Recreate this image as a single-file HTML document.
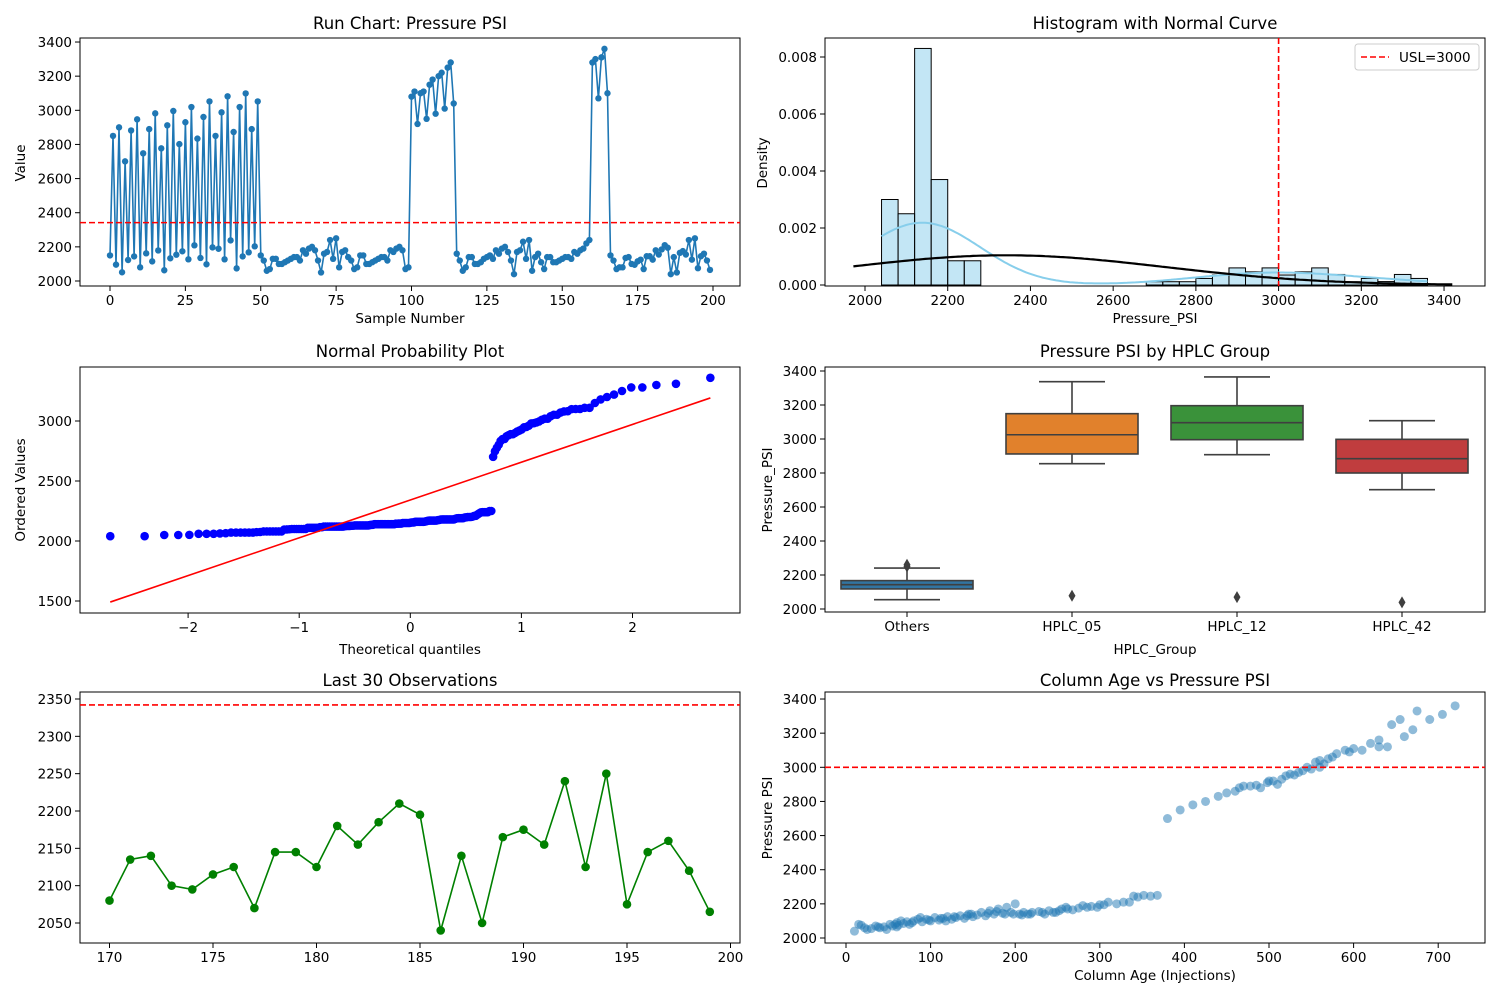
<!DOCTYPE html>
<html><head><meta charset="utf-8"><style>
html,body{margin:0;padding:0;background:#fff}
svg{display:block;font-family:"DejaVu Sans","Liberation Sans",sans-serif}
</style></head><body>
<svg id="fig" width="1500" height="1000" viewBox="0 0 1500 1000" xmlns="http://www.w3.org/2000/svg"></svg>
<script>
// ---- data ----
const runValues = [2150,2850,2096,2900,2051,2701,2123,2882,2144,2947,2080,2748,2162,2890,2115,2982,2179,2777,2063,2912,2133,2996,2154,2802,2174,2930,2127,3019,2209,2834,2135,2961,2098,3052,2197,2850,2189,2988,2127,3082,2238,2873,2074,3019,2144,3099,2168,2890,2203,3052,
2150,2120,2060,2070,2130,2130,2100,2100,2110,2120,2130,2140,2140,2120,2180,2160,2190,2200,2180,2120,2050,2160,2170,2240,2130,2250,2080,2170,2180,2140,2120,2070,2080,2150,2150,2100,2100,2110,2120,2130,2140,2140,2120,2180,2170,2190,2200,2180,2070,2080,
3080,3110,2920,3100,3110,2950,3150,3180,2980,3200,3220,3010,3250,3280,3040,2160,2120,2060,2080,2140,2140,2100,2100,2110,2130,2140,2150,2130,2180,2160,2190,2200,2170,2120,2040,2170,2180,2230,2130,2240,2060,2140,2160,2110,2070,2140,2140,2110,2110,2120,
2130,2140,2140,2130,2170,2160,2180,2190,2220,2240,3280,3300,3070,3310,3360,3100,2150,2120,2070,2080,
2080,2135,2140,2100,2095,2115,2125,2070,2145,2145,2125,2180,2155,2185,2210,2195,2040,2140,2050,2165,2175,2155,2240,2125,2250,2075,2145,2160,2120,2065];
const last30Index = [170,171,172,173,174,175,176,177,178,179,180,181,182,183,184,185,186,187,188,189,190,191,192,193,194,195,196,197,198,199];
const last30Values = [2080,2135,2140,2100,2095,2115,2125,2070,2145,2145,2125,2180,2155,2185,2210,2195,2040,2140,2050,2165,2175,2155,2240,2125,2250,2075,2145,2160,2120,2065];
const controlLimit = 2342;
const usl = 3000;
const histEdgeStart = 2040;
const histBinWidth = 40;
const histDensity = [0.0030,0.0025,0.0083,0.0037,0.00085,0.00085,0,0,0,0,0,0,0,0,0,0,0.000115,0.000115,0.000115,0.00023,0.00035,0.0006,0.00046,0.0006,0.00035,0.00046,0.0006,0.00037,0.000115,0.00023,0.00012,0.00037,0.00023];
const boxCategories = ["Others","HPLC_05","HPLC_12","HPLC_42"];
const boxWhisLo = [2055,2855,2908,2702];
const boxQ1 = [2118,2912,2996,2800];
const boxMedian = [2143,3025,3096,2884];
const boxQ3 = [2167,3149,3196,2998];
const boxWhisHi = [2241,3337,3365,3108];
const boxOutliers = [[2250,2260],[2078],[2070],[2039]];
const boxColors = ["#3274a1","#e1812c","#3a923a","#c03d3e"];
const scatterAge = [10,15,18,25,30,35,40,45,48,52,55,60,62,65,68,72,75,80,85,90,95,100,105,110,115,120,125,130,135,140,145,150,155,160,165,170,175,180,185,190,195,200,205,210,215,220,228,235,240,248,255,260,268,275,280,290,300,310,320,328,340,345,352,360,368,60,88,118,143,178,208,232,262,297,22,38,58,78,98,112,128,148,168,188,198,218,245,252,285,305,335,
380,395,410,425,440,450,460,465,478,485,490,498,505,510,515,520,525,530,540,545,550,555,560,565,570,575,580,590,595,600,610,620,630,640,645,655,660,670,675,690,705,720,630,560,535,500,470];
const scatterPressure = [2040,2080,2075,2050,2055,2070,2060,2065,2050,2080,2070,2090,2075,2100,2085,2095,2080,2100,2110,2095,2110,2100,2120,2105,2115,2125,2110,2120,2130,2115,2140,2125,2135,2150,2130,2160,2140,2170,2145,2180,2150,2200,2140,2150,2140,2150,2155,2140,2160,2150,2170,2180,2165,2175,2190,2185,2195,2210,2200,2210,2245,2240,2250,2245,2250,2065,2120,2100,2130,2155,2135,2150,2170,2180,2060,2065,2080,2090,2105,2115,2125,2140,2145,2140,2140,2140,2150,2160,2180,2195,2210,
2700,2750,2780,2800,2830,2850,2860,2880,2890,2895,2880,2910,2920,2900,2930,2950,2960,2955,2980,3000,2990,3030,3040,3020,3050,3060,3080,3100,3090,3110,3100,3140,3160,3120,3250,3280,3180,3220,3330,3280,3310,3360,3120,3000,2970,2920,2890];

// ---- helpers ----
const NS="http://www.w3.org/2000/svg";
const svg=document.getElementById('fig');
function el(tag,attrs,parent){const e=document.createElementNS(NS,tag);for(const k in attrs)e.setAttribute(k,attrs[k]);(parent||svg).appendChild(e);return e;}
function txt(s,x,y,size,anchor,parent,extra){const t=el('text',Object.assign({x:x,y:y,'font-size':size,'text-anchor':anchor||'middle',fill:'#000'},extra||{}),parent);t.textContent=s;return t;}
function axesFrame(L,T,R,B,name){
  const g=el('g',{});
  
  
  el('rect',{x:L,y:T,width:R-L,height:B-T,fill:'none',stroke:'#000','stroke-width':1},g);
  return g;
}
function xTicks(g,vals,fx,B,labels){vals.forEach((v,i)=>{const x=fx(v);el('line',{x1:x,x2:x,y1:B,y2:B+5,stroke:'#000'},g);const t=txt(labels?labels[i]:String(v),x,B+19,13.5,'middle',g);});}
function yTicks(g,vals,fy,L,labels){vals.forEach((v,i)=>{const y=fy(v);el('line',{x1:L-5,x2:L,y1:y,y2:y,stroke:'#000'},g);const t=txt(labels?labels[i]:String(v),L-8,y+5,13.5,'end',g);});}
function title(g,s,x,y){const t=txt(s,x,y,16.5,'middle',g);}
function xlabel(g,s,x,y){const t=txt(s,x,y,13.5,'middle',g);}
function ylabel(g,s,x,y){const t=txt(s,x,y,13.5,'middle',g,{transform:`rotate(-90 ${x} ${y})`});}
const mean=runValues.reduce((a,b)=>a+b,0)/runValues.length;
const sd=Math.sqrt(runValues.reduce((a,b)=>a+(b-mean)*(b-mean),0)/(runValues.length-1));

// ---- 1 run chart ----
(function(){
  const L=80,T=38,R=740,B=286;
  const fx=i=>110+i*3.015, fy=v=>281-(v-2000)*0.1707;
  const g=axesFrame(L,T,R,B,'run-chart');
  const pts=runValues.map((v,i)=>fx(i).toFixed(1)+','+fy(v).toFixed(1)).join(' ');
  const ln=el('polyline',{points:pts,fill:'none',stroke:'#1f77b4','stroke-width':1.6},g);
  
  
  runValues.forEach((v,i)=>{const c=el('circle',{cx:fx(i),cy:fy(v),r:3.2,fill:'#1f77b4'},g);
    
    });
  const hl=el('line',{x1:L,x2:R,y1:fy(controlLimit),y2:fy(controlLimit),stroke:'#ff0000','stroke-width':1.6,'stroke-dasharray':'6,3'},g);
  
  
  xTicks(g,[0,25,50,75,100,125,150,175,200],fx,B);
  yTicks(g,[2000,2200,2400,2600,2800,3000,3200,3400],fy,L);
  title(g,'Run Chart: Pressure PSI',410,29);
  xlabel(g,'Sample Number',410,323);
  ylabel(g,'Value',25,163);
})();

// ---- 2 histogram ----
(function(){
  const L=825,T=38,R=1485,B=286;
  const fx=v=>865+(v-2000)*0.4136, fy=d=>285-d*28500;
  const g=axesFrame(L,T,R,B,'histogram-chart');
  histDensity.forEach((d,i)=>{if(d<=0)return;const x0=fx(histEdgeStart+i*histBinWidth),x1=fx(histEdgeStart+(i+1)*histBinWidth);
    const r=el('rect',{x:x0,y:fy(d),width:x1-x0,height:285-fy(d),fill:'#87ceeb','fill-opacity':0.5,stroke:'#000','stroke-width':1},g);
    
    });
  const n=runValues.length,bw=sd*Math.pow(n,-0.2);
  const lo=Math.min(...runValues),hi=Math.max(...runValues);
  let kp=[];for(let k=0;k<=200;k++){const x=lo+(hi-lo)*k/200;let s=0;runValues.forEach(v=>{const z=(x-v)/bw;s+=Math.exp(-0.5*z*z);});kp.push(fx(x).toFixed(1)+','+fy(s/(n*bw*Math.sqrt(2*Math.PI))).toFixed(1));}
  const kd=el('polyline',{points:kp.join(' '),fill:'none',stroke:'#87ceeb','stroke-width':2},g);
  
  
  let np=[];const a=1972,b=3420;for(let k=0;k<=200;k++){const x=a+(b-a)*k/200;const z=(x-mean)/sd;np.push(fx(x).toFixed(1)+','+fy(Math.exp(-0.5*z*z)/(sd*Math.sqrt(2*Math.PI))).toFixed(1));}
  const nc=el('polyline',{points:np.join(' '),fill:'none',stroke:'#000','stroke-width':2.2},g);
  
  
  const ul=el('line',{x1:fx(usl),x2:fx(usl),y1:T,y2:B,stroke:'#ff0000','stroke-width':1.6,'stroke-dasharray':'6,3'},g);
  
  
  xTicks(g,[2000,2200,2400,2600,2800,3000,3200,3400],fx,B);
  yTicks(g,[0,0.002,0.004,0.006,0.008],fy,L,['0.000','0.002','0.004','0.006','0.008']);
  title(g,'Histogram with Normal Curve',1155,29);
  xlabel(g,'Pressure_PSI',1155,323);
  ylabel(g,'Density',767,163);
  const lg=el('g',{},g);
  
  
  el('rect',{x:1355,y:44,width:124,height:26,rx:3,fill:'#fff',stroke:'#ccc'},lg);
  el('line',{x1:1361,x2:1389,y1:57,y2:57,stroke:'#ff0000','stroke-width':1.6,'stroke-dasharray':'6,3'},lg);
  txt('USL=3000',1399,62,13.5,'start',lg);
})();

// ---- 3 QQ plot ----
(function(){
  const L=80,T=367,R=740,B=613;
  const fx=q=>410.3+q*111.1, fy=v=>601-(v-1500)*0.12;
  const g=axesFrame(L,T,R,B,'normal-probability-plot');
  function ninv(p){const a=[-39.69683028665376,220.9460984245205,-275.9285104469687,138.357751867269,-30.66479806614716,2.506628277459239],b=[-54.47609879822406,161.5858368580409,-155.6989798598866,66.80131188771972,-13.28068155288572],c=[-0.007784894002430293,-0.3223964580411365,-2.400758277161838,-2.549732539343734,4.374664141464968,2.938163982698783],d=[0.007784695709041462,0.3224671290700398,2.445134137142996,3.754408661907416];const pl=0.02425;let q,r;
    if(p<pl){q=Math.sqrt(-2*Math.log(p));return(((((c[0]*q+c[1])*q+c[2])*q+c[3])*q+c[4])*q+c[5])/((((d[0]*q+d[1])*q+d[2])*q+d[3])*q+1);}
    if(p>1-pl){q=Math.sqrt(-2*Math.log(1-p));return-(((((c[0]*q+c[1])*q+c[2])*q+c[3])*q+c[4])*q+c[5])/((((d[0]*q+d[1])*q+d[2])*q+d[3])*q+1);}
    q=p-0.5;r=q*q;return(((((a[0]*r+a[1])*r+a[2])*r+a[3])*r+a[4])*r+a[5])*q/(((((b[0]*r+b[1])*r+b[2])*r+b[3])*r+b[4])*r+1);}
  const s=[...runValues].sort((x,y)=>x-y),n=s.length;
  const q=s.map((v,i)=>{let m;if(i===n-1)m=Math.pow(0.5,1/n);else if(i===0)m=1-Math.pow(0.5,1/n);else m=(i+1-0.3175)/(n+0.365);return ninv(m);});
  const qm=q.reduce((a,b)=>a+b,0)/n,sm=s.reduce((a,b)=>a+b,0)/n;let sxy=0,sxx=0;q.forEach((x,i)=>{sxy+=(x-qm)*(s[i]-sm);sxx+=(x-qm)*(x-qm);});
  const sl=sxy/sxx,ic=sm-sl*qm;
  s.forEach((v,i)=>{const c=el('circle',{cx:fx(q[i]),cy:fy(v),r:4.3,fill:'#0000ff'},g);
    
    });
  const fl=el('line',{x1:fx(q[0]),y1:fy(ic+sl*q[0]),x2:fx(q[n-1]),y2:fy(ic+sl*q[n-1]),stroke:'#ff0000','stroke-width':1.6},g);
  
  
  xTicks(g,[-2,-1,0,1,2],fx,B,['\u22122','\u22121','0','1','2']);
  yTicks(g,[1500,2000,2500,3000],fy,L);
  title(g,'Normal Probability Plot',410,357);
  xlabel(g,'Theoretical quantiles',410,654);
  ylabel(g,'Ordered Values',25,490);
})();

// ---- 4 box plot ----
(function(){
  const L=825,T=367,R=1485,B=612;
  const fx=i=>907+i*165, fy=v=>609-(v-2000)*0.17;
  const g=axesFrame(L,T,R,B,'box-plot-chart');
  const st='#3f3f3f',hw=66;
  boxCategories.forEach((c,i)=>{const x=fx(i);const bg=el('g',{},g);
    
    
    el('line',{x1:x,x2:x,y1:fy(boxWhisHi[i]),y2:fy(boxQ3[i]),stroke:st,'stroke-width':1.6},bg);
    el('line',{x1:x,x2:x,y1:fy(boxQ1[i]),y2:fy(boxWhisLo[i]),stroke:st,'stroke-width':1.6},bg);
    el('line',{x1:x-hw/2,x2:x+hw/2,y1:fy(boxWhisHi[i]),y2:fy(boxWhisHi[i]),stroke:st,'stroke-width':1.6},bg);
    el('line',{x1:x-hw/2,x2:x+hw/2,y1:fy(boxWhisLo[i]),y2:fy(boxWhisLo[i]),stroke:st,'stroke-width':1.6},bg);
    el('rect',{x:x-hw,y:fy(boxQ3[i]),width:2*hw,height:fy(boxQ1[i])-fy(boxQ3[i]),fill:boxColors[i],stroke:st,'stroke-width':1.6},bg);
    el('line',{x1:x-hw,x2:x+hw,y1:fy(boxMedian[i]),y2:fy(boxMedian[i]),stroke:st,'stroke-width':1.6},bg);
    boxOutliers[i].forEach(v=>{const y=fy(v);el('path',{d:`M${x} ${y-6}L${x+3.5} ${y}L${x} ${y+6}L${x-3.5} ${y}Z`,fill:st},bg);});
  });
  xTicks(g,[0,1,2,3],fx,B,boxCategories);
  yTicks(g,[2000,2200,2400,2600,2800,3000,3200,3400],fy,L);
  title(g,'Pressure PSI by HPLC Group',1155,357);
  xlabel(g,'HPLC_Group',1155,654);
  ylabel(g,'Pressure_PSI',772,490);
})();

// ---- 5 last 30 ----
(function(){
  const L=80,T=692,R=740,B=943;
  const fx=i=>109.5+(i-170)*20.7, fy=v=>923-(v-2050)*0.7467;
  const g=axesFrame(L,T,R,B,'last-30-chart');
  const ln=el('polyline',{points:last30Values.map((v,i)=>fx(last30Index[i]).toFixed(1)+','+fy(v).toFixed(1)).join(' '),fill:'none',stroke:'#008000','stroke-width':1.6},g);
  
  
  last30Values.forEach((v,i)=>{const c=el('circle',{cx:fx(last30Index[i]),cy:fy(v),r:4.3,fill:'#008000'},g);
    
    });
  const hl=el('line',{x1:L,x2:R,y1:fy(controlLimit),y2:fy(controlLimit),stroke:'#ff0000','stroke-width':1.6,'stroke-dasharray':'6,3'},g);
  
  
  xTicks(g,[170,175,180,185,190,195,200],fx,B);
  yTicks(g,[2050,2100,2150,2200,2250,2300,2350],fy,L);
  title(g,'Last 30 Observations',410,686);
})();

// ---- 6 scatter ----
(function(){
  const L=825,T=692,R=1485,B=943;
  const fx=a=>846+a*0.8460, fy=v=>938-(v-2000)*0.1707;
  const g=axesFrame(L,T,R,B,'age-vs-pressure-scatter');
  scatterAge.forEach((a,i)=>{const c=el('circle',{cx:fx(a),cy:fy(scatterPressure[i]),r:4.5,fill:'#1f77b4','fill-opacity':0.5},g);
    
    });
  const hl=el('line',{x1:L,x2:R,y1:fy(usl),y2:fy(usl),stroke:'#ff0000','stroke-width':1.6,'stroke-dasharray':'6,3'},g);
  
  
  xTicks(g,[0,100,200,300,400,500,600,700],fx,B);
  yTicks(g,[2000,2200,2400,2600,2800,3000,3200,3400],fy,L);
  title(g,'Column Age vs Pressure PSI',1155,686);
  xlabel(g,'Column Age (Injections)',1155,980);
  ylabel(g,'Pressure PSI',772,818);
})();
</script>
</body></html>
